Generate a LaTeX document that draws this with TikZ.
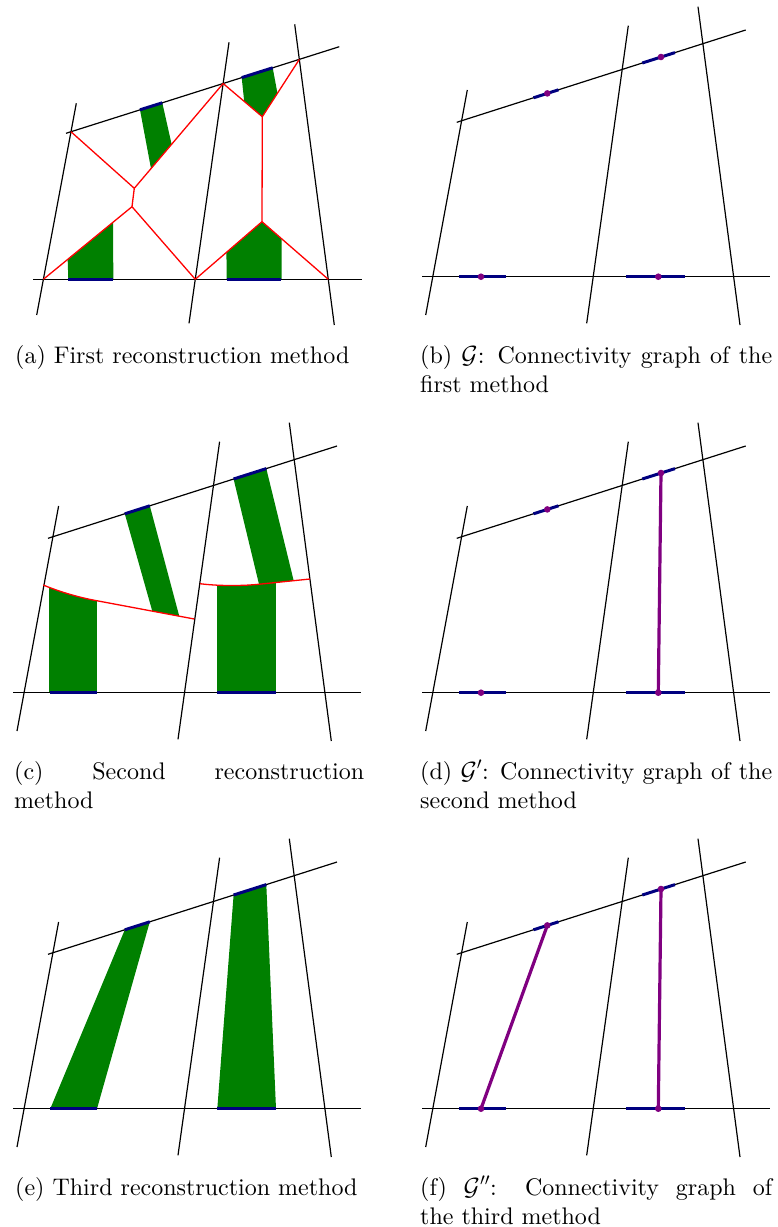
\documentclass[tikz,border=0pt]{standalone}
\usepackage{fontspec}
\setmainfont{lmroman10-regular.otf}
\usetikzlibrary{calc}
\definecolor{gfill}{RGB}{0,128,0}
\definecolor{segblue}{RGB}{0,0,128}
\definecolor{edgepurple}{RGB}{128,0,128}
\tikzset{
  bline/.style={black, line width=1.2pt},
  rline/.style={red, line width=1.3pt, line join=round},
  seg/.style={segblue, line width=3pt},
  pedge/.style={edgepurple, line width=3.2pt},
  pdot/.style={fill=edgepurple},
  captext/.style={inner sep=0pt, anchor=base west, font=\fontsize{24}{29}\selectfont},
}
\newcommand\PanelCoords[1]{%
  \coordinate (#1L1) at (35.7,315);   \coordinate (#1L2) at (77.3,90);
  \coordinate (#1M1) at (196.7,323.3); \coordinate (#1M2) at (238.3,25.7);
  \coordinate (#1R1) at (350,325);    \coordinate (#1R2) at (308,6.7);
  \coordinate (#1B1) at (32,276.7);   \coordinate (#1B2) at (380,276.7);
  \coordinate (#1T1) at (66.7,122.3); \coordinate (#1T2) at (355.7,30);
  \coordinate (#1s1a) at (143.5,97.8); \coordinate (#1s1b) at (168.5,89.8);
  \coordinate (#1s2a) at (252.3,63.0); \coordinate (#1s2b) at (285,52.6);
  \coordinate (#1s3a) at (69,276.7);   \coordinate (#1s3b) at (115.7,276.7);
  \coordinate (#1s4a) at (236,276.7);  \coordinate (#1s4b) at (294.7,276.7);
  \coordinate (#1d1) at (157.3,93.4);  \coordinate (#1d2) at (271,57.0);
  \coordinate (#1d3) at (91,276.7);    \coordinate (#1d4) at (268.3,276.7);
}
\newcommand\PanelLines[1]{%
  \draw[bline] (#1L1) -- (#1L2);
  \draw[bline] (#1M1) -- (#1M2);
  \draw[bline] (#1R1) -- (#1R2);
  \draw[bline] (#1B1) -- (#1B2);
  \draw[bline] (#1T1) -- (#1T2);
}
\newcommand\PanelSegs[1]{%
  \draw[seg] (#1s1a) -- (#1s1b);
  \draw[seg] (#1s2a) -- (#1s2b);
  \draw[seg] (#1s3a) -- (#1s3b);
  \draw[seg] (#1s4a) -- (#1s4b);
}
\newcommand\PanelDots[1]{%
  \fill[pdot] (#1d1) circle (3.3);
  \fill[pdot] (#1d2) circle (3.3);
  \fill[pdot] (#1d3) circle (3.3);
  \fill[pdot] (#1d4) circle (3.3);
}
\begin{document}
\begin{tikzpicture}[x=1pt,y=-1pt]
\useasboundingbox[fill=white] (0,0) rectangle (778,1227);

% ---------------- (a) ----------------
\coordinate (aL1) at (36.7,315);   \coordinate (aL2) at (76.3,103.3);
\coordinate (aM1) at (189,323.3);  \coordinate (aM2) at (229,42.3);
\coordinate (aR1) at (334.3,325);  \coordinate (aR2) at (294.7,24.3);
\coordinate (aB1) at (33.3,279.3); \coordinate (aB2) at (361.7,279.3);
\coordinate (aT1) at (66,133.3);   \coordinate (aT2) at (339.3,46.7);
\coordinate (p1) at (intersection of aL1--aL2 and aT1--aT2);
\coordinate (p2) at (intersection of aM1--aM2 and aT1--aT2);
\coordinate (p3) at (intersection of aR1--aR2 and aT1--aT2);
\coordinate (q1) at (intersection of aL1--aL2 and aB1--aB2);
\coordinate (q2) at (intersection of aM1--aM2 and aB1--aB2);
\coordinate (q3) at (intersection of aR1--aR2 and aB1--aB2);
\coordinate (v1) at (134.3,188.3);
\coordinate (v2) at (132,206.7);
\coordinate (v3) at (262.3,116.7);
\coordinate (v4) at (262,221.7);
\coordinate (g1a) at (140,109.8);  \coordinate (g1b) at (162.3,102.8);
\coordinate (g3a) at (241.7,77.6); \coordinate (g3b) at (272.7,67.8);
% green regions
\fill[gfill] (g1a) -- (g1b) -- ($(v1)!0.42!(p2)$) -- ($(v1)!0.188!(p2)$) -- cycle;
\fill[gfill] (68.3,279.3) -- ($(q1)!0.274!(v2)$) -- ($(q1)!0.787!(v2)$) -- (113.3,279.3) -- cycle;
\fill[gfill] (g3a) -- (g3b) -- ($(p3)!0.591!(v3)$) -- (v3) -- ($(p2)!0.538!(v3)$) -- cycle;
\fill[gfill] (226.7,279.3) -- ($(q2)!0.467!(v4)$) -- (v4) -- ($(v4)!0.297!(q3)$) -- (281.7,279.3) -- cycle;
% black lines
\draw[bline] (aL1) -- (aL2);
\draw[bline] (aM1) -- (aM2);
\draw[bline] (aR1) -- (aR2);
\draw[bline] (aB1) -- (aB2);
\draw[bline] (aT1) -- (aT2);
% red lines
\draw[rline] (p1) -- (v1) -- (p2);
\draw[rline] (v1) -- (v2);
\draw[rline] (q1) -- (v2) -- (q2);
\draw[rline] (p2) -- (v3) -- (p3);
\draw[rline] (v3) -- (v4);
\draw[rline] (q2) -- (v4) -- (q3);
% blue segments
\draw[seg] (g1a) -- (g1b);
\draw[seg] (g3a) -- (g3b);
\draw[seg] (68.3,279.3) -- (112.7,279.3);
\draw[seg] (226.7,279.3) -- (281,279.3);

% ---------------- (b) ----------------
\begin{scope}[shift={(390,0)}]
  \PanelCoords{b}
  \PanelLines{b}
  \PanelSegs{b}
  \PanelDots{b}
\end{scope}

% ---------------- (c) ----------------
\begin{scope}[shift={(-18.7,416)}]
  \PanelCoords{c}
  \begin{scope}
    \clip (62,169) .. controls (75,174.5) and (95,181) .. (115.4,184.7) -- (213,203) -- (213,290) -- (62,290) -- cycle;
    \fill[gfill] (68,150) rectangle (115.4,276.7);
  \end{scope}
  \begin{scope}
    \clip (218.7,167.7) .. controls (235,169.8) and (258,170.2) .. (277,168.3) -- (328.7,163) -- (328.7,290) -- (218.7,290) -- cycle;
    \fill[gfill] (235.7,150) rectangle (294.7,276.7);
  \end{scope}
  \fill[gfill] (cs1a) -- (cs1b) -- (198,200.3) -- (171,195.2) -- cycle;
  \fill[gfill] (cs2a) -- (cs2b) -- (312.4,164.7) -- (277.7,168.2) -- cycle;
  \PanelLines{c}
  \draw[rline] (62,169) .. controls (75,174.5) and (95,181) .. (115.4,184.7) -- (213,203);
  \draw[rline] (218.7,167.7) .. controls (235,169.8) and (258,170.2) .. (277,168.3) -- (328.7,163);
  \PanelSegs{c}
\end{scope}

% ---------------- (d) ----------------
\begin{scope}[shift={(390,416)}]
  \PanelCoords{d}
  \PanelLines{d}
  \PanelSegs{d}
  \draw[pedge] (dd4) -- (dd2);
  \PanelDots{d}
\end{scope}

% ---------------- (e) ----------------
\begin{scope}[shift={(-18.7,832)}]
  \PanelCoords{e}
  \fill[gfill] (es3a) -- (es1a) -- (es1b) -- (es3b) -- cycle;
  \fill[gfill] (es4a) -- (es2a) -- (es2b) -- (es4b) -- cycle;
  \PanelLines{e}
  \PanelSegs{e}
\end{scope}

% ---------------- (f) ----------------
\begin{scope}[shift={(390,832)}]
  \PanelCoords{f}
  \PanelLines{f}
  \PanelSegs{f}
  \draw[pedge] (fd3) -- (fd1);
  \draw[pedge] (fd4) -- (fd2);
  \PanelDots{f}
\end{scope}

% ---------------- captions ----------------
\node[captext] (capa) at (15,363) {(a) First reconstruction method};
\node[captext] (capb1) at (420,363) {\makebox[352pt][s]{(b) $\mathcal{G}$: Connectivity graph of the}};
\node[captext] (capb2) at (420,392) {first method};
\node[captext] (capc1) at (14,779) {\makebox[350pt][s]{(c) Second reconstruction}};
\node[captext] (capc2) at (14,808) {method};
\node[captext] (capd1) at (420,779) {\makebox[352pt][s]{(d) $\mathcal{G}'$: Connectivity graph of the}};
\node[captext] (capd2) at (420,808) {second method};
\node[captext] (cape) at (15,1195) {(e) Third reconstruction method};
\node[captext] (capf1) at (420,1195) {\makebox[352pt][s]{(f) $\mathcal{G}''$: Connectivity graph of}};
\node[captext] (capf2) at (420,1224) {the third method};
\end{tikzpicture}
\end{document}
